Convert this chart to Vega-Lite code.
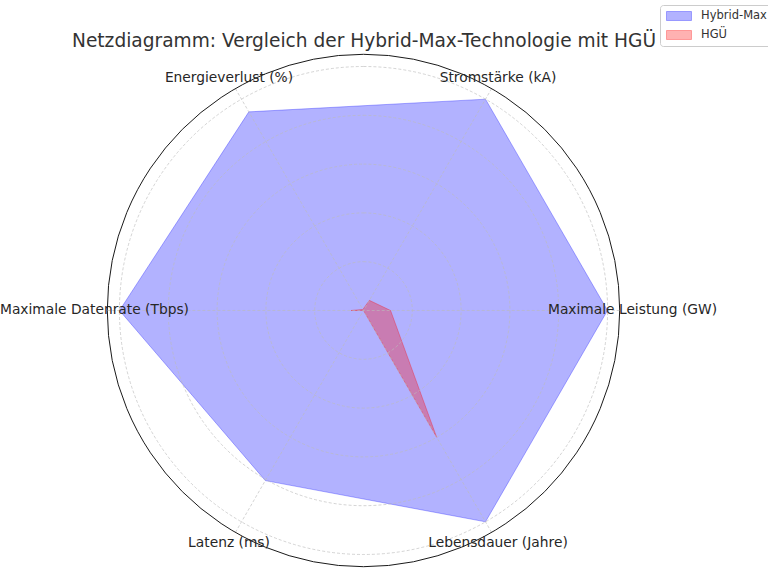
{
  "$schema": "https://vega.github.io/schema/vega-lite/v6.json",
  "width": 768,
  "height": 576,
  "padding": 0,
  "autosize": {"type": "none"},
  "background": "white",
  "title": {
    "text": "Netzdiagramm: Vergleich der Hybrid-Max-Technologie mit HGÜ",
    "font": "DejaVu Sans",
    "fontSize": 18.6,
    "fontWeight": "normal",
    "color": "#333333",
    "orient": "none",
    "align": "center",
    "baseline": "middle",
    "dx": 364,
    "dy": 41
  },
  "config": {"view": {"stroke": null}},
  "datasets": {
    "cats": [
      {"idx": 0, "label": "Maximale Leistung (GW)"},
      {"idx": 1, "label": "Stromstärke (kA)"},
      {"idx": 2, "label": "Energieverlust (%)"},
      {"idx": 3, "label": "Maximale Datenrate (Tbps)"},
      {"idx": 4, "label": "Latenz (ms)"},
      {"idx": 5, "label": "Lebensdauer (Jahre)"}
    ],
    "vals": [
      {"series": "Hybrid-Max", "idx": 0, "value": 1.0},
      {"series": "Hybrid-Max", "idx": 1, "value": 1.0},
      {"series": "Hybrid-Max", "idx": 2, "value": 0.94},
      {"series": "Hybrid-Max", "idx": 3, "value": 1.0},
      {"series": "Hybrid-Max", "idx": 4, "value": 0.805},
      {"series": "Hybrid-Max", "idx": 5, "value": 1.0},
      {"series": "HGÜ", "idx": 0, "value": 0.111},
      {"series": "HGÜ", "idx": 1, "value": 0.048},
      {"series": "HGÜ", "idx": 2, "value": 0.005},
      {"series": "HGÜ", "idx": 3, "value": 0.051},
      {"series": "HGÜ", "idx": 4, "value": 0.0},
      {"series": "HGÜ", "idx": 5, "value": 0.6}
    ],
    "grid": [{"r": 0.2}, {"r": 0.4}, {"r": 0.6}, {"r": 0.8}, {"r": 1.0}]
  },
  "layer": [
    {
      "data": {"name": "vals"},
      "transform": [
        {"calculate": "datum.idx * PI / 3", "as": "a"},
        {"calculate": "datum.value * cos(datum.a)", "as": "px"},
        {"calculate": "datum.value * sin(datum.a)", "as": "py"}
      ],
      "mark": {"type": "line", "interpolate": "linear-closed", "fillOpacity": 0.3, "strokeOpacity": 0.3, "strokeWidth": 1},
      "encoding": {
        "x": {"field": "px", "type": "quantitative", "axis": null, "scale": {"domain": [-1.4898, 1.6578], "nice": false, "zero": false}},
        "y": {"field": "py", "type": "quantitative", "axis": null, "scale": {"domain": [-1.0881, 1.2725], "nice": false, "zero": false}},
        "order": {"field": "idx", "type": "quantitative"},
        "fill": {
          "field": "series", "type": "nominal",
          "scale": {"domain": ["Hybrid-Max", "HGÜ"], "range": ["#0000ff", "#ff0000"]},
          "legend": {
            "title": null,
            "orient": "none",
            "legendX": 660,
            "legendY": 5,
            "padding": 4,
            "fillColor": "white",
            "strokeColor": "#cccccc",
            "cornerRadius": 3,
            "symbolType": "M-2,-0.72H2V0.72H-2Z",
            "symbolSize": 156,
            "symbolOffset": 8,
            "labelOffset": 15,
            "labelFont": "DejaVu Sans",
            "labelFontSize": 11.5,
            "labelColor": "#333333",
            "rowPadding": 5,
            "symbolStrokeWidth": 1,
            "encode": {"symbols": {"update": {"fillOpacity": {"value": 0.3}, "strokeOpacity": {"value": 0.3}}}}
          }
        },
        "stroke": {
          "field": "series", "type": "nominal",
          "scale": {"domain": ["Hybrid-Max", "HGÜ"], "range": ["#0000ff", "#ff0000"]}
        }
      }
    },
    {
      "data": {"name": "grid"},
      "mark": {"type": "arc", "filled": false, "theta": 0, "theta2": 6.2832, "stroke": "#bbbbbb", "strokeDash": [3, 2], "strokeWidth": 0.8, "strokeOpacity": 0.8},
      "encoding": {
        "x": {"datum": 0, "type": "quantitative", "axis": null, "scale": {"domain": [-1.4898, 1.6578], "nice": false, "zero": false}},
        "y": {"datum": 0, "type": "quantitative", "axis": null, "scale": {"domain": [-1.0881, 1.2725], "nice": false, "zero": false}},
        "radius": {"field": "r", "type": "quantitative", "stack": null, "scale": {"type": "linear", "domain": [0, 1.05], "range": [0, 256.2], "zero": true, "nice": false}}
      }
    },
    {
      "data": {"name": "cats"},
      "transform": [
        {"calculate": "datum.idx * PI / 3", "as": "a"},
        {"calculate": "1.05 * cos(datum.a)", "as": "sx"},
        {"calculate": "1.05 * sin(datum.a)", "as": "sy"}
      ],
      "mark": {"type": "rule", "stroke": "#bbbbbb", "strokeDash": [3, 2], "strokeWidth": 0.8, "strokeOpacity": 0.8},
      "encoding": {
        "x": {"field": "sx", "type": "quantitative", "axis": null, "scale": {"domain": [-1.4898, 1.6578], "nice": false, "zero": false}},
        "y": {"field": "sy", "type": "quantitative", "axis": null, "scale": {"domain": [-1.0881, 1.2725], "nice": false, "zero": false}},
        "x2": {"datum": 0},
        "y2": {"datum": 0}
      }
    },
    {
      "data": {"values": [{"r": 1.05}]},
      "mark": {"type": "arc", "filled": false, "theta": 0, "theta2": 6.2832, "stroke": "#1a1a1a", "strokeWidth": 1},
      "encoding": {
        "x": {"datum": 0, "type": "quantitative", "axis": null, "scale": {"domain": [-1.4898, 1.6578], "nice": false, "zero": false}},
        "y": {"datum": 0, "type": "quantitative", "axis": null, "scale": {"domain": [-1.0881, 1.2725], "nice": false, "zero": false}},
        "radius": {"field": "r", "type": "quantitative", "stack": null, "scale": {"type": "linear", "domain": [0, 1.05], "range": [0, 256.2], "zero": true, "nice": false}}
      }
    },
    {
      "data": {"name": "cats"},
      "transform": [
        {"calculate": "datum.idx * PI / 3", "as": "a"},
        {"calculate": "1.1025 * cos(datum.a)", "as": "lx"},
        {"calculate": "1.1025 * sin(datum.a)", "as": "ly"}
      ],
      "mark": {"type": "text", "font": "DejaVu Sans", "fontSize": 13.8, "align": "center", "baseline": "middle", "color": "#262626"},
      "encoding": {
        "x": {"field": "lx", "type": "quantitative", "axis": null, "scale": {"domain": [-1.4898, 1.6578], "nice": false, "zero": false}},
        "y": {"field": "ly", "type": "quantitative", "axis": null, "scale": {"domain": [-1.0881, 1.2725], "nice": false, "zero": false}},
        "text": {"field": "label"}
      }
    }
  ]
}
